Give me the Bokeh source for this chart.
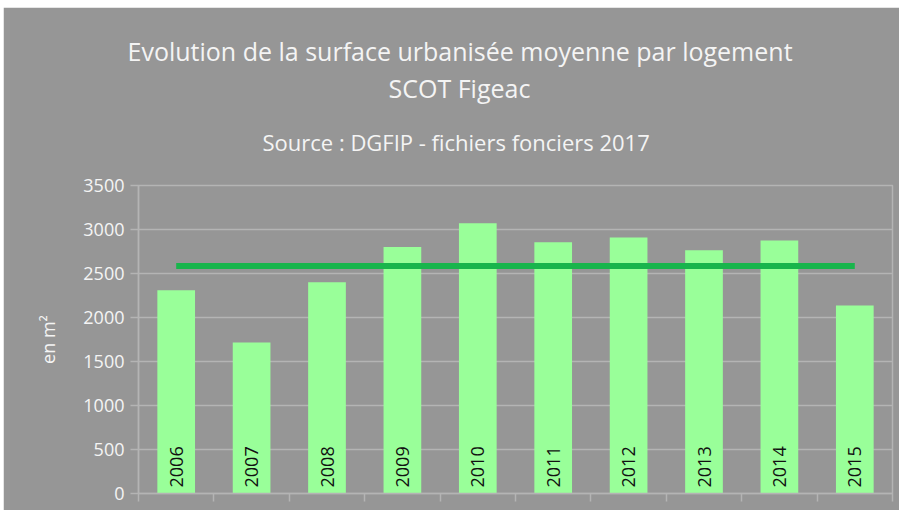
from math import pi
from bokeh.plotting import figure
from bokeh.models import Range1d, LinearAxis, FixedTicker, Title
from bokeh.core.properties import value
from bokeh.embed import file_html
from bokeh.resources import INLINE

# --- data ---
years = ["2006", "2007", "2008", "2009", "2010", "2011", "2012", "2013", "2014", "2015"]
surface = [2310, 1715, 2400, 2800, 3070, 2855, 2910, 2765, 2875, 2135]
moyenne = 2584
y_ticks = [0, 500, 1000, 1500, 2000, 2500, 3000, 3500]
title_1 = "Evolution de la surface urbanisée moyenne par logement"
title_2 = "SCOT Figeac"
subtitle = "Source : DGFIP - fichiers fonciers 2017"
y_label = "en m²"

BG = "#969696"
GRID = "#b4b4b4"
TXT = "#f4f4f4"
FONT = "Open Sans"

n = len(years)
xpos = [i + 0.5 for i in range(n)]  # category slot centres

p = figure(width=896, height=503, x_range=Range1d(0, n),
           y_range=Range1d(0, 3500), output_backend="svg", toolbar_location=None,
           x_axis_location=None, y_axis_location=None,
           background_fill_color=BG, border_fill_color=BG,
           min_border_left=135, min_border_right=7, min_border_top=178, min_border_bottom=17,
           margin=(7, 0, 0, 3))

p.outline_line_color = GRID
p.outline_line_width = 1.5
p.xgrid.visible = False
p.ygrid.ticker = FixedTicker(ticks=y_ticks)
p.ygrid.grid_line_color = GRID
p.ygrid.grid_line_width = 1.5

# y axis
yax = LinearAxis(ticker=FixedTicker(ticks=y_ticks), axis_label=y_label)
yax.axis_line_color = GRID
yax.axis_line_width = 1.5
yax.major_tick_line_color = GRID
yax.major_tick_line_width = 1.5
yax.major_tick_in = 0
yax.major_tick_out = 8
yax.minor_tick_line_color = None
yax.major_label_text_font = FONT
yax.major_label_text_font_size = "18px"
yax.major_label_text_color = TXT
yax.major_label_standoff = 6
yax.axis_label_text_font = FONT
yax.axis_label_text_font_size = "18px"
yax.axis_label_text_font_style = "normal"
yax.axis_label_text_color = TXT
yax.axis_label_standoff = 20
p.add_layout(yax, "left")

# x axis with ticks between categories (no labels)
xax = LinearAxis(ticker=FixedTicker(ticks=list(range(n + 1))))
xax.axis_line_color = GRID
xax.axis_line_width = 1.5
xax.major_tick_line_color = GRID
xax.major_tick_line_width = 1.5
xax.major_tick_in = 0
xax.major_tick_out = 8
xax.minor_tick_line_color = None
xax.major_label_text_font_size = "1px"
xax.major_label_text_color = None
xax.major_label_standoff = 0
p.add_layout(xax, "below")

# invisible spacer between plot frame and subtitle
spacer = LinearAxis(ticker=FixedTicker(ticks=[0]))
spacer.axis_line_color = None
spacer.major_tick_line_color = None
spacer.minor_tick_line_color = None
spacer.major_tick_in = 0
spacer.major_tick_out = 9
spacer.major_label_text_font_size = "1px"
spacer.major_label_text_color = None
spacer.major_label_standoff = 0
p.add_layout(spacer, "above")

# bars
p.vbar(x=xpos, top=surface, width=0.5, fill_color="#99ff99", line_color=None)
# average line
p.line(x=[xpos[0], xpos[-1]], y=[moyenne, moyenne], line_color="#18b54c", line_width=6)
# year labels inside bars
p.text(x=xpos, y=[0] * n, text=years, angle=pi / 2, text_align="left",
       text_baseline="middle", y_offset=-6, text_font=value(FONT),
       text_font_size="18px", text_color="#111111")

# titles (added nearest-first)
for txt, size, so, off in [(subtitle, "22px", 40, 124), (title_2, "25px", 0, 250),
                           (title_1, "25px", 2, -11)]:
    t = Title(text=txt, align="left", text_font=FONT, text_font_size=size,
              text_font_style="normal", text_color=TXT, standoff=so, offset=off)
    p.add_layout(t, "above")

open("out.html", "w").write(file_html(p, INLINE))
